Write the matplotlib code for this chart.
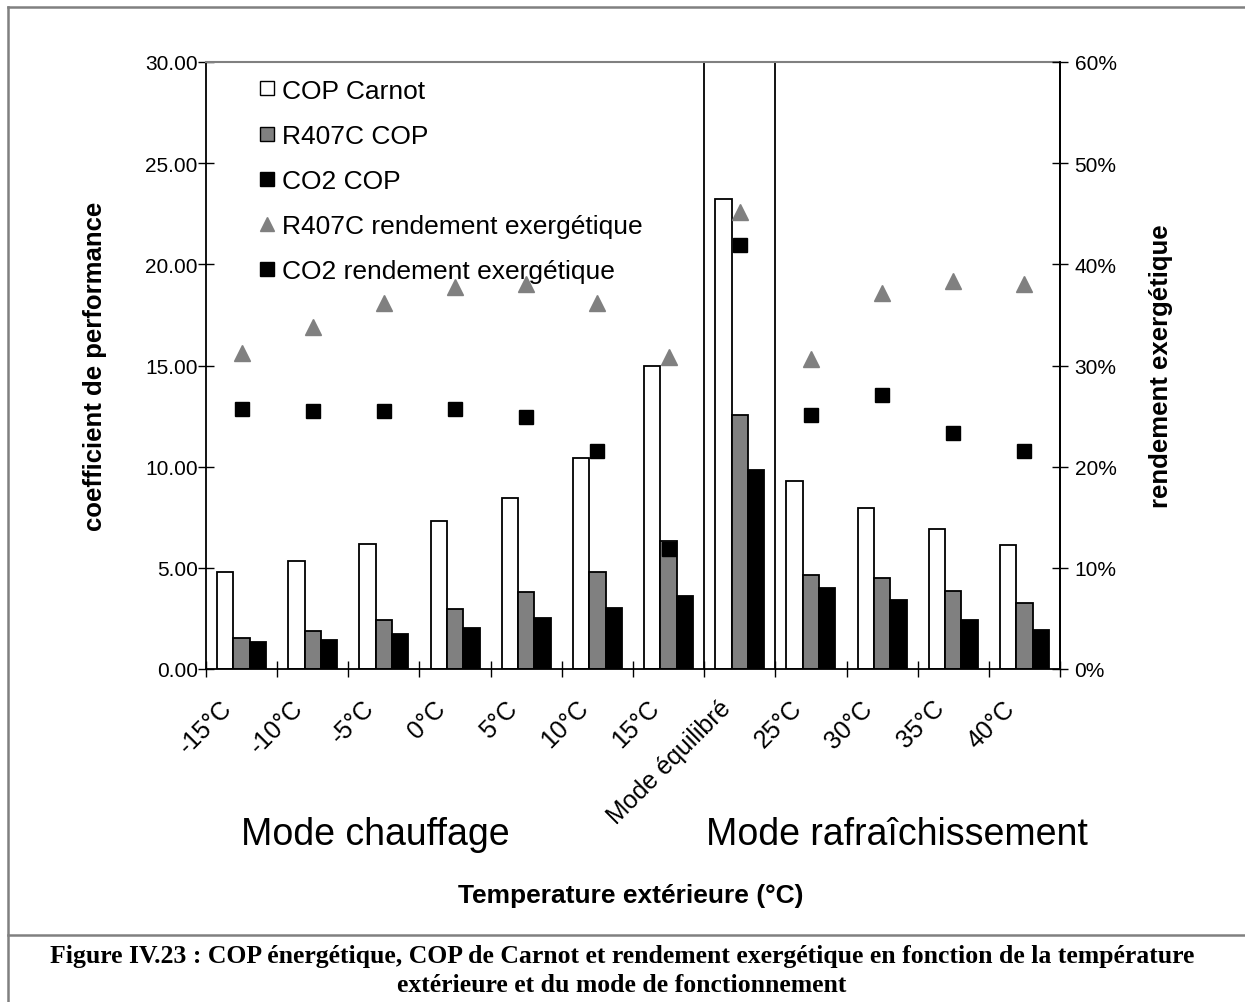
import matplotlib.pyplot as plt
from matplotlib.lines import Line2D
from matplotlib.transforms import offset_copy
import numpy as np

plt.rcParams['font.family'] = ['Liberation Sans', 'DejaVu Sans']

categories = ['-15°C', '-10°C', '-5°C', '0°C', '5°C', '10°C', '15°C',
              'Mode équilibré', '25°C', '30°C', '35°C', '40°C']
cop_carnot = [4.78, 5.35, 6.16, 7.33, 8.44, 10.41, 14.96, 23.23, 9.31, 7.94, 6.92, 6.15]
r407c_cop = [1.52, 1.89, 2.41, 2.98, 3.79, 4.78, 6.34, 12.57, 4.65, 4.48, 3.87, 3.28]
co2_cop = [1.32, 1.42, 1.73, 2.03, 2.52, 3.02, 3.62, 9.84, 3.99, 3.41, 2.44, 1.91]
r407c_rend = [31.2, 33.8, 36.2, 37.8, 38.1, 36.2, 30.8, 45.2, 30.6, 37.2, 38.4, 38.1]
co2_rend = [25.7, 25.5, 25.5, 25.7, 24.9, 21.5, 11.9, 41.9, 25.1, 27.1, 23.3, 21.5]

W, H = 1245, 1003
fig = plt.figure(figsize=(W / 100, H / 100), dpi=100)
ax = fig.add_axes([206 / W, 1 - 670 / H, (1060 - 206) / W, (670 - 63) / H])

x = np.arange(len(categories))
bw = 0.23
ax.bar(x - bw, cop_carnot, bw, color='white', edgecolor='black', linewidth=1.3, zorder=2)
ax.bar(x, r407c_cop, bw, color='#808080', edgecolor='black', linewidth=1.3, zorder=2)
ax.bar(x + bw, co2_cop, bw, color='black', edgecolor='black', linewidth=1.3, zorder=2)

ax.set_xlim(-0.5, len(categories) - 0.5)
ax.set_ylim(0, 30)
ax.set_yticks(np.arange(0, 31, 5))
ax.set_yticklabels(['%.2f' % v for v in np.arange(0, 31, 5)], fontsize=15)
ax.tick_params(axis='y', direction='inout', length=11, width=1, pad=0.5)

# tick marks between categories, labels drawn at the centres
ax.set_xticks(np.arange(-0.5, len(categories), 1))
ax.set_xticklabels([])
ax.tick_params(axis='x', direction='inout', length=11, width=1)
lab_tr = offset_copy(ax.get_xaxis_transform(), fig=fig, x=-13, y=-35, units='dots')
for xi, name in zip(x, categories):
    ax.text(xi, 0, name, transform=lab_tr, rotation=45, rotation_mode='anchor',
            ha='right', va='center', fontsize=18)

# separators around the balanced mode
for b in (6.5, 7.5):
    ax.axvline(b, color='black', linewidth=1.3, zorder=1)

ax.spines['top'].set_color('#808080')
ax.spines['top'].set_linewidth(1.5)
for s in ('left', 'bottom', 'right'):
    ax.spines[s].set_linewidth(1.3)

ax.set_ylabel('coefficient de performance', fontsize=18.5, fontweight='bold')
ax.yaxis.set_label_coords((107 - 206) / 854, 0.5)

ax2 = ax.twinx()
ax2.set_ylim(0, 60)
ax2.set_yticks(np.arange(0, 61, 10))
ax2.set_yticklabels(['%d%%' % v for v in np.arange(0, 61, 10)], fontsize=15)
ax2.tick_params(axis='y', direction='inout', length=11, width=1, pad=5)
ax2.plot(x, r407c_rend, linestyle='none', marker='^', markersize=11, color='#808080', zorder=3)
ax2.plot(x, co2_rend, linestyle='none', marker='s', markersize=10.5, color='black', zorder=3)
ax2.set_ylabel('rendement exergétique', fontsize=18.5, fontweight='bold')
ax2.yaxis.set_label_coords((1149 - 206) / 854, 0.5)
for s in ax2.spines.values():
    s.set_visible(False)
ax2.spines['right'].set_visible(True)
ax2.spines['right'].set_linewidth(1.3)

handles = [
    Line2D([], [], linestyle='none', marker='s', markersize=9.5, markerfacecolor='white', markeredgecolor='black'),
    Line2D([], [], linestyle='none', marker='s', markersize=9.5, markerfacecolor='#808080', markeredgecolor='black'),
    Line2D([], [], linestyle='none', marker='s', markersize=9.5, color='black'),
    Line2D([], [], linestyle='none', marker='^', markersize=9.5, color='#808080'),
    Line2D([], [], linestyle='none', marker='s', markersize=9.5, color='black'),
]
labels = ['COP Carnot', 'R407C COP', 'CO2 COP', 'R407C rendement exergétique',
          'CO2 rendement exergétique']
ax2.legend(handles, labels, loc='upper left', bbox_to_anchor=(0.05, 0.99), frameon=False,
           fontsize=19, handlelength=0.6, handletextpad=0.25, labelspacing=0.8, borderaxespad=0)

fig.text(375 / W, 1 - 835 / H, 'Mode chauffage', fontsize=27, ha='center', va='center')
fig.text(897 / W, 1 - 835 / H, 'Mode rafraîchissement', fontsize=27, ha='center', va='center')
fig.text(631 / W, 1 - 896 / H, 'Temperature extérieure (°C)', fontsize=19, fontweight='bold',
         ha='center', va='center')

# frame around the chart and separation from the caption
fig.add_artist(Line2D([8 / W, 8 / W], [0, 1 - 8 / H], color='#808080', linewidth=1.8))
fig.add_artist(Line2D([8 / W, 1], [1 - 8 / H, 1 - 8 / H], color='#808080', linewidth=1.8))
fig.add_artist(Line2D([8 / W, 1], [1 - 936 / H, 1 - 936 / H], color='#808080', linewidth=1.8))

fig.text(622 / W, 1 - 957 / H,
         'Figure IV.23 : COP énergétique, COP de Carnot et rendement exergétique en fonction de la température',
         fontsize=18.5, fontweight='bold', family='Liberation Serif', ha='center', va='center')
fig.text(622 / W, 1 - 986 / H, 'extérieure et du mode de fonctionnement',
         fontsize=18.5, fontweight='bold', family='Liberation Serif', ha='center', va='center')

fig.savefig('out.png', dpi=100)
